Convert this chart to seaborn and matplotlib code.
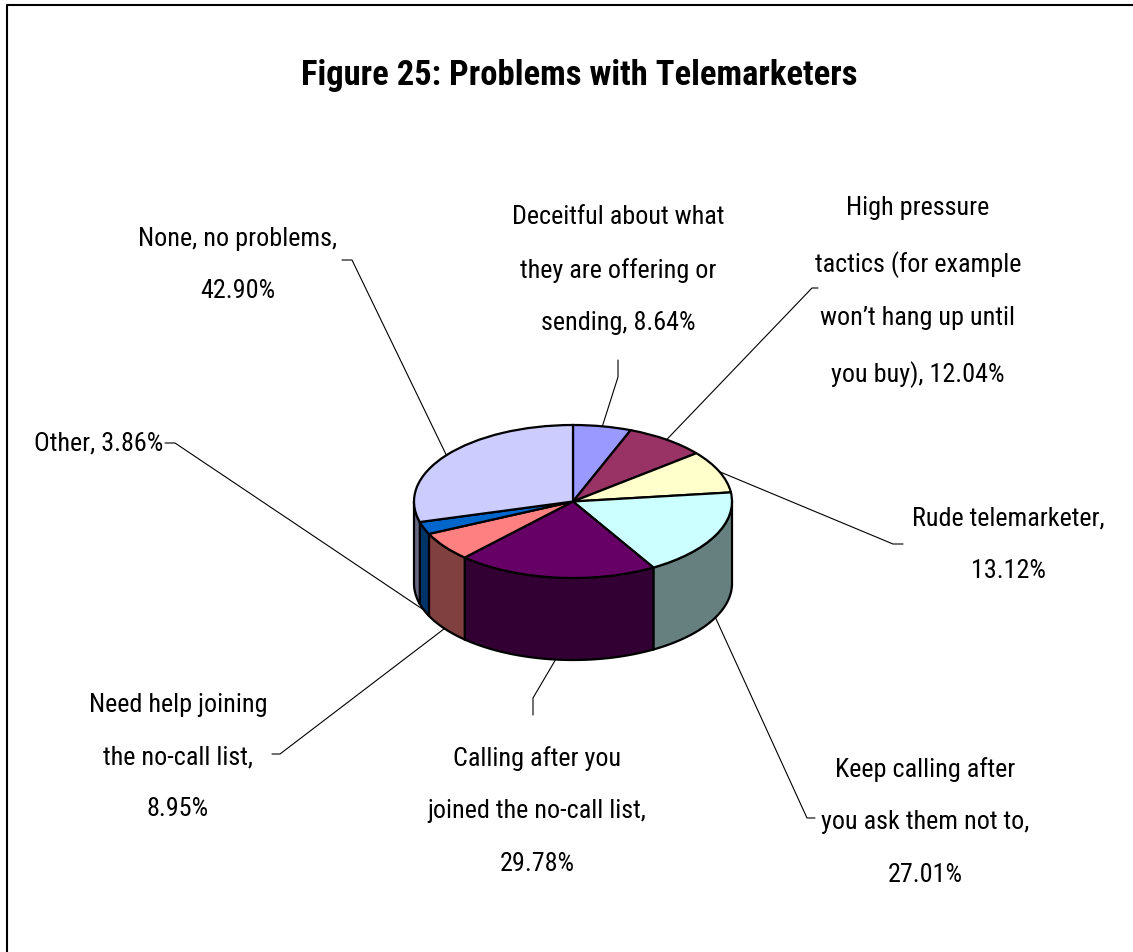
import numpy as np
import seaborn as sns
from matplotlib import pyplot as plt
from matplotlib import font_manager
from matplotlib.colors import to_rgb
from matplotlib.lines import Line2D
from matplotlib.textpath import TextPath
from matplotlib.font_manager import FontProperties

# slice labels (line breaks as in the chart) and their shares in percent
categories = [
    "Deceitful about what\nthey are offering or\nsending",
    "High pressure\ntactics (for example\nwon\u2019t hang up until\nyou buy)",
    "Rude telemarketer",
    "Keep calling after\nyou ask them not to",
    "Calling after you\njoined the no-call list",
    "Need help joining\nthe no-call list",
    "Other",
    "None, no problems",
]
percent = [8.64, 12.04, 13.12, 27.01, 29.78, 8.95, 3.86, 42.90]
pct_on_new_line = [False, False, True, True, True, True, False, True]

# old Excel chart fills
top_colors = ["#9999FF", "#993366", "#FFFFCC", "#CCFFFF",
              "#660066", "#FF8080", "#0066CC", "#CCCCFF"]
side_colors = [tuple(np.array(to_rgb(c)) * 0.5) for c in top_colors]

W, H = 1133, 952
CX, CY = 573, 501.5      # pie centre, pixels
A, B = 159, 76.5         # ellipse half axes, pixels
DEPTH = 82               # height of the pie wall, pixels

# label anchors, leader elbow and leader end next to the label (pixels)
label_xy = [(618, 270), (918, 292), (1008, 545), (925, 822),
            (537, 811), (178, 757), (163, 443), (238, 265)]
label_ha = ["center"] * 6 + ["right", "center"]
elbow_xy = [(618, 377), (812, 288), (893, 544), (807, 818),
            (533, 698), (280, 754), (175, 443), (352, 260)]
tick_xy = [(618, 360), (818, 288), (903, 544), (815, 818),
           (533, 715), (272, 754), (165, 443), (342, 260)]

sns.set_theme(style="white")

# a narrow sans if one is installed (the chart uses Arial Narrow)
fonts = font_manager.fontManager.ttflist
names = {f.name for f in fonts}
stretch = "normal"
family = "Liberation Sans"
for cand in ["Liberation Sans Narrow", "Arial Narrow", "Roboto Condensed",
             "Open Sans Condensed", "Noto Sans Condensed"]:
    if cand in names:
        family = cand
        break
else:
    if any(f.name == "DejaVu Sans" and f.stretch in ("condensed", "semi-condensed")
           for f in fonts):
        family, stretch = "DejaVu Sans", "condensed"
plt.rcParams["font.family"] = [family, "DejaVu Sans"]
plt.rcParams["font.stretch"] = stretch


def size_for(text, width_px, weight="normal"):
    # font size (pt) that makes `text` about width_px wide
    prop = FontProperties(family=family, stretch=stretch, weight=weight)
    w = TextPath((0, 0), text, size=1, prop=prop).get_extents().width
    return width_px * 0.72 / w


label_size = size_for("Deceitful about what", 210)
title_size = size_for("Figure 25: Problems with Telemarketers", 552, "bold")
lp = TextPath((0, 0), "lp", size=1,
              prop=FontProperties(family=family, stretch=stretch)).get_extents()
em_px = label_size / 0.72
line_gap = 54
linespacing = (line_gap / em_px + lp.ymin) / lp.ymax


def to_pie(px, py):
    return (px - CX) / A, (CY - py) / B


fig = plt.figure(figsize=(W / 100, H / 100), dpi=100)
ax = fig.add_axes([0, 0, 1, 1])
wedges, _ = ax.pie(percent, colors=top_colors, startangle=90, counterclock=False,
                   radius=1, center=(0, 0),
                   wedgeprops=dict(edgecolor="black", linewidth=1.6, zorder=3))
ax.set_aspect("auto")
ax.set_xlim(-CX / A, (W - CX) / A)
ax.set_ylim((CY - H) / B, CY / B)
ax.axis("off")

depth = DEPTH / B
# front wall of each slice
for w, c in zip(wedges, side_colors):
    for k in (-360, 0, 360):
        s, e = max(w.theta1, -180 + k), min(w.theta2, k)
        if e <= s:
            continue
        t = np.radians(np.linspace(s, e, 120))
        xs = np.concatenate([np.cos(t), np.cos(t[::-1])])
        ys = np.concatenate([np.sin(t), np.sin(t[::-1]) - depth])
        ax.fill(xs, ys, facecolor=c, edgecolor="black", linewidth=1.6, zorder=2)

# labels and leader lines
for w, cat, pct, nl, lxy, ha, exy, txy in zip(wedges, categories, percent,
                                              pct_on_new_line, label_xy, label_ha,
                                              elbow_xy, tick_xy):
    text = cat + (",\n" if nl else ", ") + f"{pct:.2f}%"
    x, y = to_pie(*lxy)
    ax.text(x, y, text, ha=ha, va="center", multialignment="center",
            fontsize=label_size, linespacing=linespacing, color="black")
    mid = np.radians((w.theta1 + w.theta2) / 2)
    px, py = np.cos(mid), np.sin(mid)
    if py < 0:
        py -= depth
    ex, ey = to_pie(*exy)
    tx, ty = to_pie(*txy)
    ax.plot([px, ex, tx], [py, ey, ty], color="black", lw=0.8, zorder=1)

fig.text(579 / W, 1 - 75 / H, "Figure 25: Problems with Telemarketers",
         ha="center", va="center", fontsize=title_size, fontweight="bold",
         color="black")

# chart border (top and left visible)
fig.add_artist(Line2D([7 / W, 7 / W, 1], [0, 1 - 5 / H, 1 - 5 / H],
                      color="black", lw=1.5))

fig.savefig("out.png", dpi=100)
